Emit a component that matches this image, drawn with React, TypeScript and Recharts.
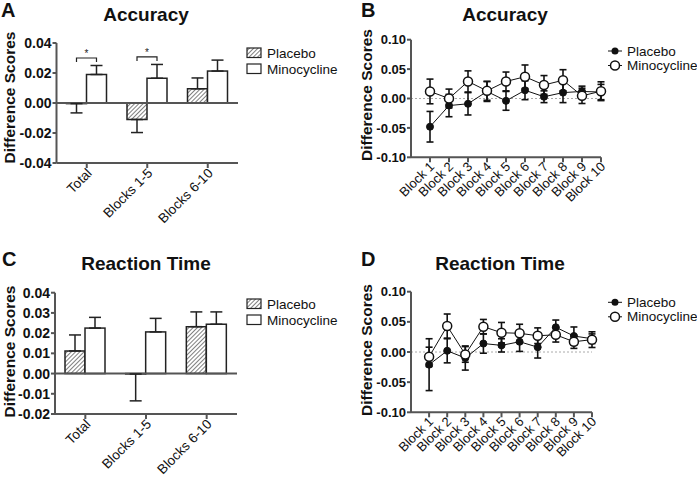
import { BarChart, Bar, LineChart, Line, XAxis, YAxis, ErrorBar, ReferenceLine } from "recharts"

const FONT = '"Liberation Sans", Arial, Helvetica, sans-serif'
const INK = "#111"
const AXIS = "#555"

// summary groups (panels A and C)
const groups = ["Total", "Blocks 1-5", "Blocks 6-10"]

const accPlacebo = [-0.0004, -0.011, 0.0095]
const accPlaceboSem = [0.0062, 0.0087, 0.0072]
const accMino = [0.019, 0.0165, 0.0213]
const accMinoSem = [0.006, 0.0092, 0.0073]
const accSig = ["*", "*", ""]

const rtPlacebo = [0.0112, -0.0002, 0.0232]
const rtPlaceboSem = [0.0079, 0.0133, 0.0073]
const rtMino = [0.0225, 0.0206, 0.0244]
const rtMinoSem = [0.0053, 0.0067, 0.0061]
const rtSig = ["", "", ""]

// per block (panels B and D)
const blocks = ["Block 1", "Block 2", "Block 3", "Block 4", "Block 5", "Block 6", "Block 7", "Block 8", "Block 9", "Block 10"]

const accBlockPlacebo = [-0.048, -0.012, -0.009, 0.012, -0.004, 0.014, 0.003, 0.01, 0.012, 0.011]
const accBlockPlaceboSem = [0.026, 0.019, 0.019, 0.017, 0.016, 0.016, 0.01, 0.017, 0.009, 0.013]
const accBlockMino = [0.012, 0.0, 0.029, 0.013, 0.029, 0.037, 0.023, 0.031, 0.0045, 0.0124]
const accBlockMinoSem = [0.021, 0.016, 0.018, 0.016, 0.016, 0.02, 0.016, 0.018, 0.013, 0.016]

const rtBlockPlacebo = [-0.021, 0.002, -0.01, 0.014, 0.011, 0.017, 0.008, 0.041, 0.0265, 0.022]
const rtBlockPlaceboSem = [0.043, 0.02, 0.02, 0.016, 0.011, 0.016, 0.018, 0.012, 0.015, 0.008]
const rtBlockMino = [-0.008, 0.043, -0.004, 0.042, 0.032, 0.031, 0.027, 0.0285, 0.017, 0.0205]
const rtBlockMinoSem = [0.016, 0.02, 0.013, 0.012, 0.017, 0.015, 0.013, 0.012, 0.011, 0.013]

const accTicks = [-0.04, -0.02, 0, 0.02, 0.04]
const rtTicks = [-0.02, -0.01, 0, 0.01, 0.02, 0.03, 0.04]
const blockTicks = [-0.1, -0.05, 0, 0.05, 0.1]

function groupRows(p: number[], pSem: number[], m: number[], mSem: number[], sig: string[]) {
  return groups.map((name, i) => {
    const pTop = p[i] >= 0 ? p[i] + pSem[i] : 0
    const mTop = m[i] >= 0 ? m[i] + mSem[i] : 0
    return {
      name,
      placebo: p[i],
      placeboErr: p[i] < 0 ? [pSem[i], 0] : [0, pSem[i]],
      mino: m[i],
      minoErr: m[i] < 0 ? [mSem[i], 0] : [0, mSem[i]],
      sig: sig[i],
      bracket: Math.max(pTop, mTop) + 0.005,
    }
  })
}

function blockRows(p: number[], pSem: number[], m: number[], mSem: number[]) {
  return blocks.map((name, i) => ({
    x: i + 1,
    name,
    placebo: p[i],
    placeboSem: pSem[i],
    mino: m[i],
    minoSem: mSem[i],
  }))
}

function AngledTick(props: any) {
  const { x, y, payload, fontSize, dx, dy, labelOf } = props
  const tx = x + dx
  const ty = y + dy
  return (
    <text
      x={tx}
      y={ty}
      transform={`rotate(-45 ${tx} ${ty})`}
      textAnchor="end"
      fontSize={fontSize}
      fontFamily={FONT}
      fill={INK}
    >
      {labelOf ? labelOf(payload.value) : payload.value}
    </text>
  )
}

// open bar that also draws the significance bracket above its pair
function MinoBar(props: any) {
  const { x, y, width, height, payload } = props
  const ppu = payload.mino !== 0 ? height / payload.mino : 0
  const zeroY = y + height
  const by = zeroY - payload.bracket * ppu
  const xl = x - width / 2
  const xr = x + width / 2
  return (
    <g>
      <rect x={x} y={y} width={width} height={height} fill="#fff" stroke="#222" strokeWidth={1.5} />
      {payload.sig ? (
        <g>
          <path d={`M${xl},${by + 4}V${by}H${xr}V${by + 4}`} fill="none" stroke="#222" strokeWidth={1.2} />
          <text x={(xl + xr) / 2} y={by - 1} textAnchor="middle" fontSize={10} fontFamily={FONT} fill="#222">
            {payload.sig}
          </text>
        </g>
      ) : null}
    </g>
  )
}

type Plot = { l: number; t: number; r: number; b: number }

function Hatch({ id }: { id: string }) {
  return (
    <pattern id={id} patternUnits="userSpaceOnUse" width={3} height={3} patternTransform="rotate(45)">
      <rect width={3} height={3} fill="#fff" />
      <line x1={0} y1={0} x2={0} y2={3} stroke="#555" strokeWidth={1.5} />
    </pattern>
  )
}

type Labels = {
  letter: string
  letterAt: [number, number]
  title: string
  titleAt: [number, number]
  yLabelAt: [number, number]
}

function Overlay({ width, height, labels, children }: { width: number; height: number; labels: Labels; children?: any }) {
  return (
    <svg
      width={width}
      height={height}
      style={{ position: "absolute", left: 0, top: 0, pointerEvents: "none" }}
      fontFamily={FONT}
    >
      <text x={labels.letterAt[0]} y={labels.letterAt[1]} fontSize={20} fontWeight={700} fill={INK}>
        {labels.letter}
      </text>
      <text x={labels.titleAt[0]} y={labels.titleAt[1]} textAnchor="middle" fontSize={19} fontWeight={700} fill={INK}>
        {labels.title}
      </text>
      <text
        transform={`translate(${labels.yLabelAt[0]} ${labels.yLabelAt[1]}) rotate(-90)`}
        textAnchor="middle"
        fontSize={15.5}
        fontWeight={700}
        fill={INK}
      >
        Difference Scores
      </text>
      {children}
    </svg>
  )
}

function GroupPanel(props: {
  left: number
  top: number
  width: number
  height: number
  plot: Plot
  rows: any[]
  ticks: number[]
  hatchId: string
  labels: Labels
  legendAt: [number, number]
}) {
  const { left, top, width, height, plot, rows, ticks, hatchId, labels, legendAt } = props
  const [lx, ly] = legendAt
  return (
    <div style={{ position: "absolute", left, top, width, height }}>
      <BarChart
        width={width}
        height={height}
        data={rows}
        margin={{ top: plot.t, right: width - plot.r, bottom: 0, left: 0 }}
        barGap={0}
        barCategoryGap={10}
      >
        <defs>
          <Hatch id={hatchId} />
        </defs>
        <XAxis
          dataKey="name"
          height={height - plot.b}
          interval={0}
          axisLine={{ stroke: AXIS, strokeWidth: 2 }}
          tickLine={{ stroke: AXIS, strokeWidth: 2 }}
          tickSize={5}
          tick={(p: any) => <AngledTick {...p} fontSize={13.5} dx={6} dy={4} />}
        />
        <YAxis
          type="number"
          width={plot.l}
          domain={[ticks[0], ticks[ticks.length - 1]]}
          ticks={ticks}
          interval={0}
          axisLine={{ stroke: AXIS, strokeWidth: 2 }}
          tickLine={{ stroke: AXIS, strokeWidth: 2 }}
          tickSize={4}
          tickMargin={1}
          tick={{ fill: INK, fontSize: 14, fontWeight: 700, fontFamily: FONT }}
          tickFormatter={(v: number) => v.toFixed(2)}
        />
        <ReferenceLine y={0} stroke={AXIS} strokeWidth={2} />
        <Bar dataKey="placebo" fill={`url(#${hatchId})`} stroke="#222" strokeWidth={1.5} isAnimationActive={false}>
          <ErrorBar dataKey="placeboErr" direction="y" width={6} stroke="#222" strokeWidth={1.5} />
        </Bar>
        <Bar dataKey="mino" fill="#fff" stroke="#222" strokeWidth={1.5} isAnimationActive={false} shape={(p: any) => <MinoBar {...p} />}>
          <ErrorBar dataKey="minoErr" direction="y" width={6} stroke="#222" strokeWidth={1.5} />
        </Bar>
      </BarChart>
      <Overlay width={width} height={height} labels={labels}>
        <defs>
          <Hatch id={`${hatchId}-key`} />
        </defs>
        <rect x={lx} y={ly} width={14} height={9.5} fill={`url(#${hatchId}-key)`} stroke="#222" strokeWidth={1.2} />
        <text x={lx + 20} y={ly + 10} fontSize={13.5} fill={INK}>
          Placebo
        </text>
        <rect x={lx} y={ly + 16} width={14} height={9.5} fill="#fff" stroke="#222" strokeWidth={1.2} />
        <text x={lx + 20} y={ly + 26} fontSize={13.5} fill={INK}>
          Minocycline
        </text>
      </Overlay>
    </div>
  )
}

function BlockPanel(props: {
  left: number
  top: number
  width: number
  height: number
  plot: Plot
  rows: any[]
  labels: Labels
  legendAt: [number, number]
}) {
  const { left, top, width, height, plot, rows, labels, legendAt } = props
  const [lx, ly] = legendAt
  return (
    <div style={{ position: "absolute", left, top, width, height }}>
      <LineChart
        width={width}
        height={height}
        data={rows}
        margin={{ top: plot.t, right: width - plot.r, bottom: 0, left: 0 }}
      >
        <XAxis
          type="number"
          dataKey="x"
          domain={[0, blocks.length]}
          ticks={blocks.map((_, i) => i + 1)}
          interval={0}
          height={height - plot.b}
          axisLine={{ stroke: AXIS, strokeWidth: 2 }}
          tickLine={{ stroke: AXIS, strokeWidth: 2 }}
          tickSize={5}
          tick={(p: any) => (
            <AngledTick {...p} fontSize={13} dx={5} dy={3} labelOf={(v: number) => blocks[v - 1]} />
          )}
        />
        <YAxis
          type="number"
          width={plot.l}
          domain={[-0.1, 0.1]}
          ticks={blockTicks}
          interval={0}
          axisLine={{ stroke: AXIS, strokeWidth: 2 }}
          tickLine={{ stroke: AXIS, strokeWidth: 2 }}
          tickSize={4}
          tickMargin={1}
          tick={{ fill: INK, fontSize: 13, fontWeight: 700, fontFamily: FONT }}
          tickFormatter={(v: number) => v.toFixed(2)}
        />
        <ReferenceLine y={0} stroke="#aaa" strokeWidth={1} strokeDasharray="2 2" />
        <Line
          dataKey="placebo"
          stroke={INK}
          strokeWidth={1}
          dot={{ r: 3.5, fill: INK, stroke: INK, strokeWidth: 1 }}
          isAnimationActive={false}
        >
          <ErrorBar dataKey="placeboSem" direction="y" width={3.5} stroke={INK} strokeWidth={1.6} />
        </Line>
        <Line
          dataKey="mino"
          stroke={INK}
          strokeWidth={1}
          dot={{ r: 4.5, fill: "#fff", stroke: INK, strokeWidth: 1.5 }}
          isAnimationActive={false}
        >
          <ErrorBar dataKey="minoSem" direction="y" width={3.5} stroke={INK} strokeWidth={1.6} />
        </Line>
      </LineChart>
      <Overlay width={width} height={height} labels={labels}>
        <line x1={lx - 7} y1={ly} x2={lx + 7} y2={ly} stroke={INK} strokeWidth={1} />
        <circle cx={lx} cy={ly} r={3.5} fill={INK} />
        <text x={lx + 12} y={ly + 4.5} fontSize={13.5} fill={INK}>
          Placebo
        </text>
        <line x1={lx - 7} y1={ly + 14.5} x2={lx + 7} y2={ly + 14.5} stroke={INK} strokeWidth={1} />
        <circle cx={lx} cy={ly + 14.5} r={4.5} fill="#fff" stroke={INK} strokeWidth={1.5} />
        <text x={lx + 12} y={ly + 19} fontSize={13.5} fill={INK}>
          Minocycline
        </text>
      </Overlay>
    </div>
  )
}

export default function App() {
  const accRows = groupRows(accPlacebo, accPlaceboSem, accMino, accMinoSem, accSig)
  const rtRows = groupRows(rtPlacebo, rtPlaceboSem, rtMino, rtMinoSem, rtSig)
  const accBlocks = blockRows(accBlockPlacebo, accBlockPlaceboSem, accBlockMino, accBlockMinoSem)
  const rtBlocks = blockRows(rtBlockPlacebo, rtBlockPlaceboSem, rtBlockMino, rtBlockMinoSem)

  return (
    <div style={{ position: "absolute", left: 0, top: 0, width: 697, height: 479, background: "#fff", overflow: "hidden" }}>
      <GroupPanel
        left={0}
        top={0}
        width={350}
        height={240}
        plot={{ l: 56.5, t: 43, r: 238, b: 163 }}
        rows={accRows}
        ticks={accTicks}
        hatchId="hatchA"
        labels={{ letter: "A", letterAt: [1, 17], title: "Accuracy", titleAt: [146, 21], yLabelAt: [15, 97.5] }}
        legendAt={[247, 48]}
      />
      <BlockPanel
        left={350}
        top={0}
        width={347}
        height={240}
        plot={{ l: 61, t: 39.7, r: 251, b: 157.3 }}
        rows={accBlocks}
        labels={{ letter: "B", letterAt: [11, 17], title: "Accuracy", titleAt: [155, 21], yLabelAt: [22, 95] }}
        legendAt={[265, 51]}
      />
      <GroupPanel
        left={0}
        top={240}
        width={350}
        height={239}
        plot={{ l: 55, t: 52.7, r: 237, b: 174 }}
        rows={rtRows}
        ticks={rtTicks}
        hatchId="hatchC"
        labels={{ letter: "C", letterAt: [2, 26], title: "Reaction Time", titleAt: [146, 30], yLabelAt: [15, 111.5] }}
        legendAt={[247, 59]}
      />
      <BlockPanel
        left={350}
        top={240}
        width={347}
        height={239}
        plot={{ l: 61, t: 51.7, r: 242, b: 172.3 }}
        rows={rtBlocks}
        labels={{ letter: "D", letterAt: [11, 26], title: "Reaction Time", titleAt: [150, 30], yLabelAt: [22, 110] }}
        legendAt={[265, 62.3]}
      />
    </div>
  )
}
